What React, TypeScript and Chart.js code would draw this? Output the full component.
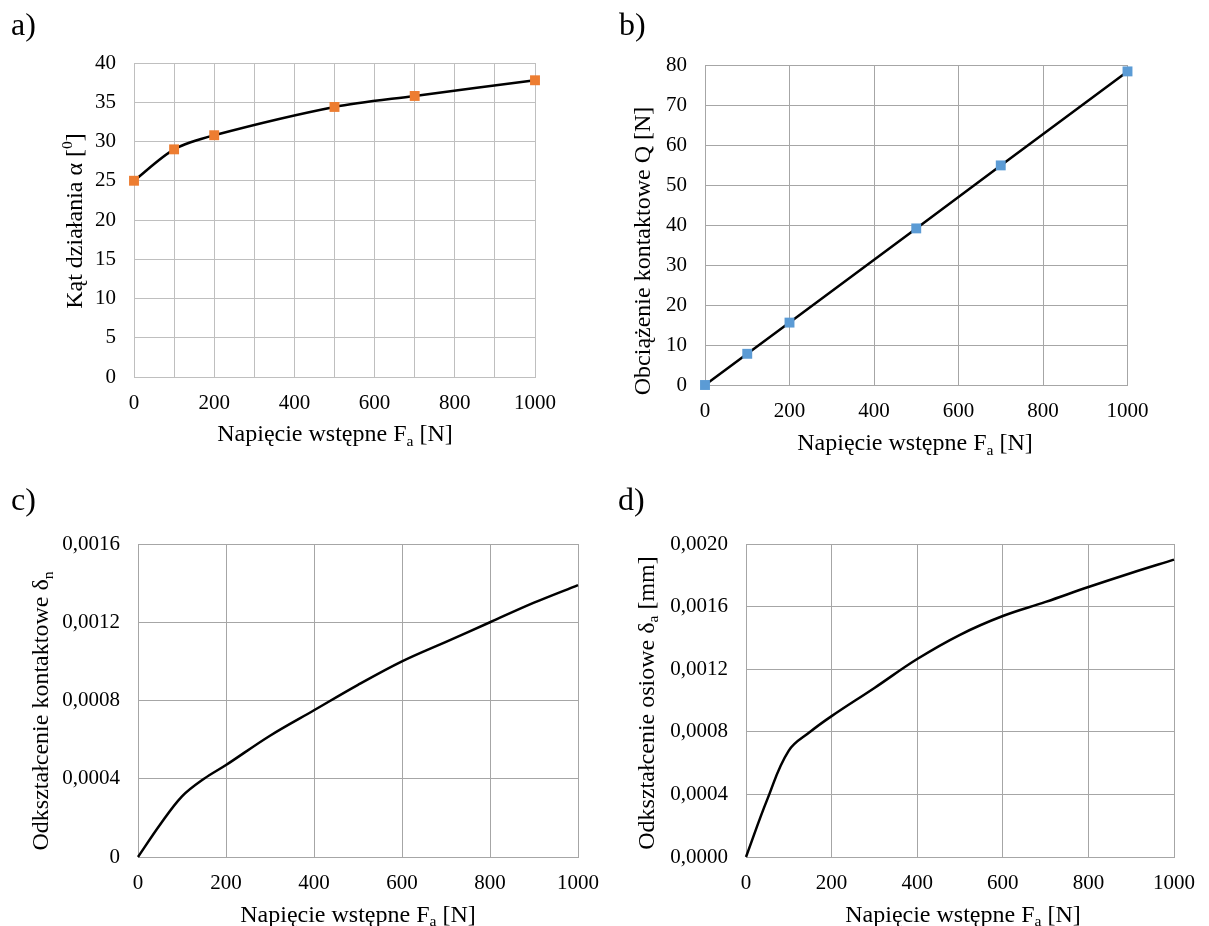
import React, { useEffect, useRef } from "react";
import { Chart, registerables } from "chart.js";

Chart.register(...registerables);

const FONT = "'Liberation Serif', 'Times New Roman', serif";
const PAGE_W = 1209;
const PAGE_H = 926;

// ---------- data ----------
const preloadN = [0, 100, 200, 500, 700, 1000];
const contactAngleDeg = [25.0, 29.0, 30.8, 34.4, 35.8, 37.8];
const contactLoadN = [0, 7.8, 15.6, 39.15, 54.9, 78.4];

const curvePreloadN = [0, 50, 100, 150, 200, 300, 400, 500, 600, 700, 800, 900, 1000];
const contactDeformation = [0, 0.000165, 0.00031, 0.0004, 0.00047, 0.00062, 0.00075, 0.00088, 0.001, 0.0011, 0.0012, 0.0013, 0.00139];
const axialDeformation = [0, 0.00037, 0.00068, 0.0008, 0.0009, 0.00108, 0.001265, 0.00142, 0.00154, 0.00163, 0.001725, 0.001815, 0.0019];

// ---------- ticks ----------
const xTicks100 = [0, 100, 200, 300, 400, 500, 600, 700, 800, 900, 1000];
const xTickLabels100 = ["0", "", "200", "", "400", "", "600", "", "800", "", "1000"];
const xTicks200 = [0, 200, 400, 600, 800, 1000];
const xTickLabels200 = ["0", "200", "400", "600", "800", "1000"];
const yTicksA = [0, 5, 10, 15, 20, 25, 30, 35, 40];
const yTickLabelsA = ["0", "5", "10", "15", "20", "25", "30", "35", "40"];
const yTicksB = [0, 10, 20, 30, 40, 50, 60, 70, 80];
const yTickLabelsB = ["0", "10", "20", "30", "40", "50", "60", "70", "80"];
const yTicksC = [0, 0.0004, 0.0008, 0.0012, 0.0016];
const yTickLabelsC = ["0", "0,0004", "0,0008", "0,0012", "0,0016"];
const yTicksD = [0, 0.0004, 0.0008, 0.0012, 0.0016, 0.002];
const yTickLabelsD = ["0,0000", "0,0004", "0,0008", "0,0012", "0,0016", "0,0020"];

// ---------- texts ----------
type Part = { t: string; sub?: boolean; sup?: boolean };
const xTitleParts: Part[] = [{ t: "Napięcie wstępne F" }, { t: "a", sub: true }, { t: " [N]" }];
const yTitleA: Part[] = [{ t: "Kąt działania α [" }, { t: "0", sup: true }, { t: "]" }];
const yTitleB: Part[] = [{ t: "Obciążenie kontaktowe Q [N]" }];
const yTitleC: Part[] = [{ t: "Odkształcenie kontaktowe δ" }, { t: "n", sub: true }];
const yTitleD: Part[] = [{ t: "Odkształcenie osiowe δ" }, { t: "a", sub: true }, { t: " [mm]" }];

function drawRich(ctx: CanvasRenderingContext2D, parts: Part[], size: number, x: number, y: number, rotate: boolean, align: "center" | "left") {
  ctx.save();
  ctx.translate(x, y);
  if (rotate) ctx.rotate(-Math.PI / 2);
  ctx.fillStyle = "#000";
  ctx.textBaseline = "alphabetic";
  ctx.textAlign = "left";
  const measured = parts.map((pt) => {
    const s = pt.sub || pt.sup ? size * 0.65 : size;
    ctx.font = `${s}px ${FONT}`;
    return { pt, s, w: ctx.measureText(pt.t).width };
  });
  const total = measured.reduce((a, m) => a + m.w, 0);
  let cx = align === "center" ? -total / 2 : 0;
  for (const m of measured) {
    ctx.font = `${m.s}px ${FONT}`;
    const dy = m.pt.sub ? size * 0.2 : m.pt.sup ? -size * 0.42 : 0;
    ctx.fillText(m.pt.t, cx, dy);
    cx += m.w;
  }
  ctx.restore();
}

const richTextPlugin = {
  id: "richText",
  afterDraw(chart: any, _args: any, opts: any) {
    const ctx = chart.ctx as CanvasRenderingContext2D;
    drawRich(ctx, opts.xTitle, 24, opts.xTitleX, opts.xTitleY, false, "center");
    drawRich(ctx, opts.yTitle, 24, opts.yTitleX, opts.yTitleY, true, "center");
    drawRich(ctx, [{ t: opts.letter }], 32, opts.letterX, opts.letterY, false, "left");
  },
};

type Panel = {
  area: { left: number; top: number; right: number; bottom: number };
  grid: string;
  datasets: any[];
  xTicks: number[];
  xLabels: string[];
  yTicks: number[];
  yLabels: string[];
  yMax: number;
  text: any;
};

function buildConfig(p: Panel): any {
  const tickFont = { family: FONT, size: 21 };
  return {
    type: "line",
    data: { datasets: p.datasets },
    options: {
      responsive: false,
      animation: false,
      devicePixelRatio: 1,
      events: [],
      layout: { padding: { left: 0, top: p.area.top, right: PAGE_W - p.area.right, bottom: 0 } },
      plugins: { legend: { display: false }, tooltip: { enabled: false }, richText: p.text },
      scales: {
        x: {
          type: "linear",
          min: 0,
          max: 1000,
          afterFit: (s: any) => { s.height = PAGE_H - p.area.bottom; },
          afterBuildTicks: (ax: any) => { ax.ticks = p.xTicks.map((v) => ({ value: v })); },
          ticks: { callback: (_v: any, i: number) => p.xLabels[i], autoSkip: false, maxRotation: 0, minRotation: 0, padding: 14, color: "#000", font: tickFont },
          grid: { color: p.grid, lineWidth: 1, drawTicks: false },
          border: { color: p.grid, width: 1 },
        },
        y: {
          type: "linear",
          min: 0,
          max: p.yMax,
          afterFit: (s: any) => { s.width = p.area.left; },
          afterBuildTicks: (ax: any) => { ax.ticks = p.yTicks.map((v) => ({ value: v })); },
          ticks: { callback: (_v: any, i: number) => p.yLabels[i], autoSkip: false, padding: 18, color: "#000", font: tickFont },
          grid: { color: p.grid, lineWidth: 1, drawTicks: false },
          border: { color: p.grid, width: 1 },
        },
      },
    },
    plugins: [richTextPlugin],
  };
}

const toPoints = (xs: number[], ys: number[]) => xs.map((x, i) => ({ x, y: ys[i] }));

const panels: Panel[] = [
  {
    area: { left: 134, top: 63, right: 535, bottom: 377 },
    grid: "#bfbfbf",
    datasets: [{
      data: toPoints(preloadN, contactAngleDeg),
      borderColor: "#000", borderWidth: 2.5, tension: 0.3, clip: false,
      pointStyle: "rect", pointRadius: 7, pointBackgroundColor: "#ED7D31", pointBorderWidth: 0,
    }],
    xTicks: xTicks100, xLabels: xTickLabels100, yTicks: yTicksA, yLabels: yTickLabelsA, yMax: 40,
    text: { xTitle: xTitleParts, xTitleX: 335, xTitleY: 441, yTitle: yTitleA, yTitleX: 82, yTitleY: 221, letter: "a)", letterX: 11, letterY: 35 },
  },
  {
    area: { left: 705, top: 65, right: 1127.5, bottom: 385 },
    grid: "#a6a6a6",
    datasets: [{
      data: toPoints(preloadN, contactLoadN),
      borderColor: "#000", borderWidth: 2.5, tension: 0, clip: false,
      pointStyle: "rect", pointRadius: 7, pointBackgroundColor: "#5B9BD5", pointBorderWidth: 0,
    }],
    xTicks: xTicks200, xLabels: xTickLabels200, yTicks: yTicksB, yLabels: yTickLabelsB, yMax: 80,
    text: { xTitle: xTitleParts, xTitleX: 915, xTitleY: 450, yTitle: yTitleB, yTitleX: 650, yTitleY: 251, letter: "b)", letterX: 619, letterY: 35 },
  },
  {
    area: { left: 138, top: 544, right: 578, bottom: 857 },
    grid: "#a6a6a6",
    datasets: [{
      data: toPoints(curvePreloadN, contactDeformation),
      borderColor: "#000", borderWidth: 2.5, tension: 0.35, clip: false, pointRadius: 0,
    }],
    xTicks: xTicks200, xLabels: xTickLabels200, yTicks: yTicksC, yLabels: yTickLabelsC, yMax: 0.0016,
    text: { xTitle: xTitleParts, xTitleX: 358, xTitleY: 921.5, yTitle: yTitleC, yTitleX: 48, yTitleY: 711, letter: "c)", letterX: 11, letterY: 510 },
  },
  {
    area: { left: 746, top: 544, right: 1185, bottom: 857 },
    grid: "#a6a6a6",
    datasets: [{
      data: toPoints(curvePreloadN, axialDeformation),
      borderColor: "#000", borderWidth: 2.5, tension: 0.4, clip: false, pointRadius: 0,
    }],
    xTicks: xTicks200, xLabels: xTickLabels200, yTicks: yTicksD, yLabels: yTickLabelsD, yMax: 0.002,
    text: { xTitle: xTitleParts, xTitleX: 963, xTitleY: 921.5, yTitle: yTitleD, yTitleX: 653.5, yTitleY: 703, letter: "d)", letterX: 618, letterY: 510 },
  },
];

function PanelCanvas({ panel }: { panel: Panel }) {
  const ref = useRef<HTMLCanvasElement | null>(null);
  useEffect(() => {
    if (!ref.current) return;
    const chart = new Chart(ref.current, buildConfig(panel));
    return () => chart.destroy();
  }, [panel]);
  return (
    <canvas
      ref={ref}
      width={PAGE_W}
      height={PAGE_H}
      style={{ position: "absolute", left: 0, top: 0, width: PAGE_W, height: PAGE_H }}
    />
  );
}

export default function App() {
  return (
    <div style={{ position: "fixed", left: 0, top: 0, width: PAGE_W, height: PAGE_H, background: "#fff" }}>
      {panels.map((p, i) => (
        <PanelCanvas key={i} panel={p} />
      ))}
    </div>
  );
}
